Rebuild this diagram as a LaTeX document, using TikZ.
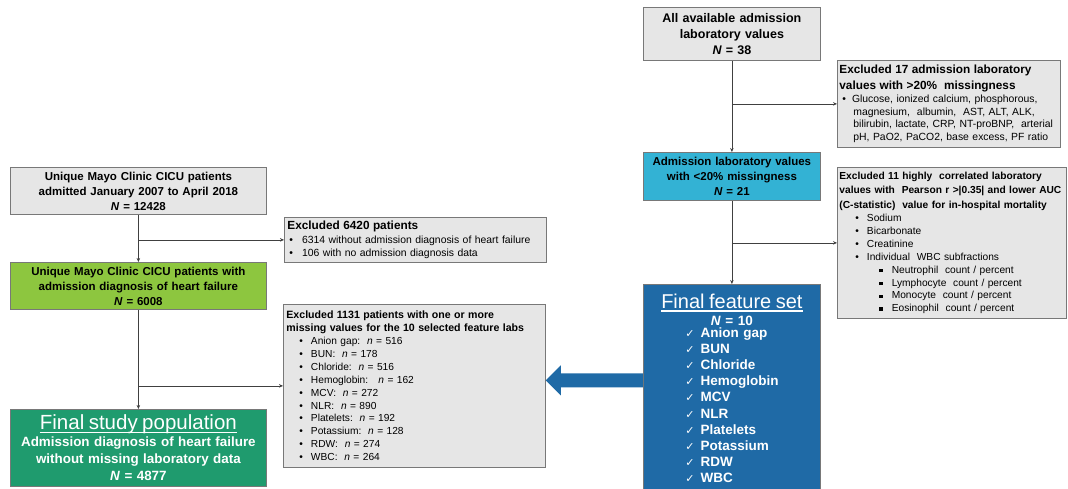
\documentclass[tikz,border=0pt]{standalone}
\usepackage{fontspec}
\setmainfont{Liberation Sans}
\newfontfamily\symfont{DejaVu Sans}
\newcommand{\thickul}[1]{\setbox0\hbox{#1}\rlap{\raisebox{-3.5pt}{\rule{\wd0}{1.2pt}}}\box0}
\usetikzlibrary{arrows.meta,positioning,calc}
\definecolor{boxgray}{RGB}{230,230,230}
\definecolor{edgegray}{RGB}{120,120,120}
\definecolor{hfgreen}{RGB}{141,198,63}
\definecolor{popgreen}{RGB}{31,155,110}
\definecolor{labcyan}{RGB}{51,178,212}
\definecolor{featblue}{RGB}{31,106,166}
\tikzset{
  conn/.style={draw=black!75, line width=0.6pt, -{Stealth[length=4pt,width=3.5pt]}},
  gbox/.style={draw=edgegray, fill=boxgray, line width=0.8pt, anchor=north west},
  tbox/.style={align=center, inner sep=3pt, font=\fontsize{11.5}{15}\selectfont\bfseries},
  xbox/.style={align=left, inner sep=3pt, font=\fontsize{10.2}{12.9}\selectfont},
  bigarr/.style={fill=featblue},
}

\begin{document}
\begin{tikzpicture}[x=1pt,y=-1pt]
  \useasboundingbox (0,0) rectangle (1068,489);
  % left column
  \node[gbox, tbox, text width=250pt, minimum height=47pt] (pop) at (10,167)
    {Unique Mayo Clinic CICU patients\\ admitted January 2007 to April 2018\\ \textit{N} = 12428};
  \node[gbox, xbox, text width=256pt, minimum height=45pt, font=\fontsize{10.4}{13.2}\selectfont] (excl1) at (284,217)
    {{\fontsize{11.8}{13.5}\selectfont\bfseries Excluded 6420 patients}\\
     \hspace*{2pt}\textbullet\hspace{9pt}6314 without admission diagnosis of heart failure\\
     \hspace*{2pt}\textbullet\hspace{9pt}106 with no admission diagnosis data};
  \node[gbox, tbox, fill=hfgreen, text width=250pt, minimum height=47pt] (hf) at (10,262)
    {Unique Mayo Clinic CICU patients with\\ admission diagnosis of heart failure\\ \textit{N} = 6008};
  \node[gbox, xbox, text width=256pt, minimum height=163pt] (excl2) at (283,304)
    {{\fontsize{10.6}{12.9}\selectfont\bfseries Excluded 1131 patients with one or more\\
     missing values for the 10 selected feature labs}\\
     \hspace*{13pt}\textbullet\hspace{8pt}Anion gap:\ \ \textit{n} = 516\\
     \hspace*{13pt}\textbullet\hspace{8pt}BUN:\ \ \textit{n} = 178\\
     \hspace*{13pt}\textbullet\hspace{8pt}Chloride:\ \ \textit{n} = 516\\
     \hspace*{13pt}\textbullet\hspace{8pt}Hemoglobin:\ \ \ \textit{n} = 162\\
     \hspace*{13pt}\textbullet\hspace{8pt}MCV:\ \ \textit{n} = 272\\
     \hspace*{13pt}\textbullet\hspace{8pt}NLR:\ \ \textit{n} = 890\\
     \hspace*{13pt}\textbullet\hspace{8pt}Platelets:\ \ \textit{n} = 192\\
     \hspace*{13pt}\textbullet\hspace{8pt}Potassium:\ \ \textit{n} = 128\\
     \hspace*{13pt}\textbullet\hspace{8pt}RDW:\ \ \textit{n} = 274\\
     \hspace*{13pt}\textbullet\hspace{8pt}WBC:\ \ \textit{n} = 264};
  \node[gbox, tbox, fill=popgreen, text=white, text width=250pt, minimum height=77pt,
        font=\fontsize{13.4}{17}\selectfont\bfseries] (final) at (10,409)
    {{\fontsize{20.5}{23}\selectfont\mdseries\thickul{Final study population}}\\
     Admission diagnosis of heart failure\\ without missing laboratory data\\ \textit{N} = 4877};
  % right column
  \node[gbox, tbox, text width=171pt, minimum height=53pt, font=\fontsize{12.5}{16}\selectfont\bfseries] (labs) at (643,7)
    {All available admission\\ laboratory values\\ \textit{N} = 38};
  \node[gbox, xbox, inner sep=2pt, text width=219pt, minimum height=87pt, font=\fontsize{10.4}{12.7}\selectfont] (excl3) at (837,60)
    {\mbox{\fontsize{11.8}{15}\selectfont\bfseries Excluded 17 admission laboratory}\\[3pt]
     \mbox{\fontsize{11.8}{15}\selectfont\bfseries values with >20\%\ \ missingness}\\[0.5pt]
     \mbox{\hspace*{3pt}\textbullet\hspace{6pt}Glucose, ionized calcium, phosphorous,}\\
     \mbox{\hspace*{14pt}magnesium,\ \ albumin,\ \ AST, ALT, ALK,}\\
     \mbox{\hspace*{14pt}bilirubin, lactate, CRP, NT-proBNP,\ \ arterial}\\
     \mbox{\hspace*{14pt}pH, PaO2, PaCO2, base excess, PF ratio}};
  \node[gbox, tbox, fill=labcyan, text width=171pt, minimum height=48pt] (lab20) at (643,152)
    {Admission laboratory values\\ with <20\% missingness\\ \textit{N} = 21};
  \node[gbox, xbox, inner sep=2pt, text width=225pt, minimum height=151pt, font=\fontsize{10.2}{12.9}\selectfont] (excl4) at (837,167)
    {\mbox{\bfseries Excluded 11 highly\ \ correlated laboratory}\\[1.8pt]
     \mbox{\bfseries values with\ \ Pearson r >|0.35| and lower AUC}\\[1.8pt]
     \mbox{\bfseries (C-statistic)\ \ value for in-hospital mortality}\\
     \hspace*{16pt}\textbullet\hspace{8pt}Sodium\\
     \hspace*{16pt}\textbullet\hspace{8pt}Bicarbonate\\
     \hspace*{16pt}\textbullet\hspace{8pt}Creatinine\\
     \hspace*{16pt}\textbullet\hspace{8pt}Individual\ \ WBC subfractions\\
     \hspace*{40pt}\rule[1pt]{3.4pt}{3.4pt}\hspace{9pt}Neutrophil\ \ count / percent\\
     \hspace*{40pt}\rule[1pt]{3.4pt}{3.4pt}\hspace{9pt}Lymphocyte\ \ count / percent\\
     \hspace*{40pt}\rule[1pt]{3.4pt}{3.4pt}\hspace{9pt}Monocyte\ \ count / percent\\
     \hspace*{40pt}\rule[1pt]{3.4pt}{3.4pt}\hspace{9pt}Eosinophil\ \ count / percent};
  \node[gbox, tbox, fill=featblue, text=white, text width=171pt, minimum height=212pt,
        font=\fontsize{13.5}{16.1}\selectfont\bfseries] (feat) at (643,284)
    {{\fontsize{20}{21}\selectfont\mdseries\thickul{Final feature set}}\\[1pt]
     \textit{N} = 10\\
     \begin{tabular}{@{}l@{\hspace{6pt}}l@{}}
       {\symfont\mdseries\fontsize{11}{13}\selectfont ✓} & Anion gap\\
       {\symfont\mdseries\fontsize{11}{13}\selectfont ✓} & BUN\\
       {\symfont\mdseries\fontsize{11}{13}\selectfont ✓} & Chloride\\
       {\symfont\mdseries\fontsize{11}{13}\selectfont ✓} & Hemoglobin\\
       {\symfont\mdseries\fontsize{11}{13}\selectfont ✓} & MCV\\
       {\symfont\mdseries\fontsize{11}{13}\selectfont ✓} & NLR\\
       {\symfont\mdseries\fontsize{11}{13}\selectfont ✓} & Platelets\\
       {\symfont\mdseries\fontsize{11}{13}\selectfont ✓} & Potassium\\
       {\symfont\mdseries\fontsize{11}{13}\selectfont ✓} & RDW\\
       {\symfont\mdseries\fontsize{11}{13}\selectfont ✓} & WBC
     \end{tabular}};
  % connectors
  \draw[conn] (pop.south) -- (hf.north);
  \draw[conn] (pop.south |- excl1.west) -- (excl1.west);
  \draw[conn] (hf.south) -- (final.north);
  \draw[conn] (hf.south |- excl2.west) -- (excl2.west);
  \draw[conn] (labs.south) -- (lab20.north);
  \draw[conn] (labs.south |- excl3.west) -- (excl3.west);
  \draw[conn] (lab20.south) -- (feat.north);
  \draw[conn] (lab20.south |- excl4.west) -- (excl4.west);
  % block arrow
  \coordinate (tip) at ($(excl2.east)+(0,-5.5)$);
  \fill[bigarr] (tip) -- ++(15,-15) -- ++(0,8) -- ($(feat.west |- tip)+(0,-7)$)
    -- ($(feat.west |- tip)+(0,7)$) -- ($(tip)+(15,7)$) -- ++(0,8) -- cycle;
\end{tikzpicture}
\end{document}
